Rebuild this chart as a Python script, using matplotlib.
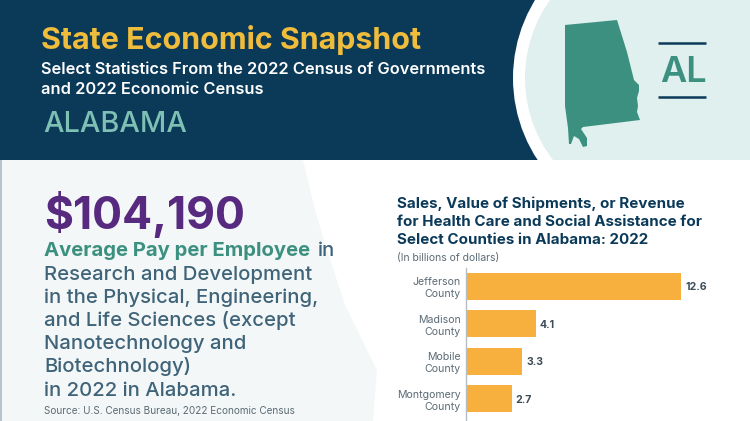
import matplotlib
matplotlib.use('Agg')
import matplotlib.pyplot as plt
from matplotlib.patches import Circle, Polygon, Rectangle

# chart values
counties = ['Jefferson\nCounty', 'Madison\nCounty', 'Mobile\nCounty', 'Montgomery\nCounty']
revenue = [12.6, 4.1, 3.3, 2.7]

body_lines = ['Research and Development', 'in the Physical, Engineering,', 'and Life Sciences (except',
              'Nanotechnology and', 'Biotechnology)', 'in 2022 in Alabama.']
body_y = [275, 298, 321, 344, 367, 391]
chart_title = ['Sales, Value of Shipments, or Revenue', 'for Health Care and Social Assistance for',
               'Select Counties in Alabama: 2022']
chart_title_y = [204, 222, 240]

state_outline = [(565, 25), (617, 20), (622, 36), (627, 52), (634, 80), (639, 85), (639, 91), (637, 98),
                 (638, 106), (637, 112), (640, 120), (583, 127), (581, 129), (587, 138), (587, 146), (583, 147),
                 (579, 139), (574, 136), (571, 144), (569, 144), (568, 128), (565, 106)]
shore_outline = [(303, 160), (315, 210), (327, 250), (345, 305), (367, 350), (377, 370), (373, 421), (0, 421), (0, 160)]

NAVY = '#0B3A59'
TEAL = '#3C9080'
SLATE = '#3F6378'
FONT = 'Inter'

plt.rcParams['font.family'] = [FONT, 'DejaVu Sans']

fig = plt.figure(figsize=(7.5, 4.21), dpi=100)
bg = fig.add_axes([0, 0, 1, 1])
bg.set_xlim(0, 750)
bg.set_ylim(421, 0)
bg.axis('off')

# header band and circle on the right
bg.add_patch(Rectangle((0, 0), 750, 160, color=NAVY, lw=0))
clip = Rectangle((0, 0), 750, 160, transform=bg.transData)
ring = Circle((662, 78), 149, color='white', lw=0)
disc = Circle((659, 78), 134, color='#DFF0EE', lw=0)
fill = Rectangle((660, 0), 90, 160, color='#DFF0EE', lw=0)
for p in (ring, disc, fill):
    bg.add_patch(p)
    p.set_clip_path(clip)

# pale shape behind the left column
bg.add_patch(Polygon(shore_outline, closed=True, color='#F3F7F7', lw=0))
bg.add_patch(Rectangle((0, 160), 1.5, 261, color='#B9C4CA', lw=0))

bg.add_patch(Polygon(state_outline, closed=True, color=TEAL, lw=0))
bg.plot([658, 706], [43, 43], color=NAVY, lw=1.8, solid_capstyle='butt')
bg.plot([658, 706], [97, 97], color=NAVY, lw=1.8, solid_capstyle='butt')
bg.text(660, 72, 'AL', color=TEAL, fontsize=26, fontweight='semibold', va='center', ha='left')

bg.text(41, 40, 'State Economic Snapshot', color='#EFBC3C', fontsize=21.9, fontweight='bold', va='center')
bg.text(41, 70, 'Select Statistics From the 2022 Census of Governments', color='white', fontsize=11.8,
        fontweight='semibold', va='center')
bg.text(41, 89, 'and 2022 Economic Census', color='white', fontsize=11.8, fontweight='semibold', va='center')
bg.text(43, 125, 'ALABAMA', color='#7FC0B5', fontsize=20.8, fontweight='medium', va='center')

bg.text(44, 215, '$104,190', color='#57297F', fontsize=32, fontweight='bold', va='center')
bg.text(44, 251, 'Average Pay per Employee', color=TEAL, fontsize=14.6, fontweight='bold', va='center')
bg.text(318, 251, 'in', color=SLATE, fontsize=14.6, fontweight='medium', va='center')
for line, y in zip(body_lines, body_y):
    bg.text(44, y, line, color=SLATE, fontsize=14.6, fontweight='medium', va='center')
bg.text(44, 411, 'Source: U.S. Census Bureau, 2022 Economic Census', color='#5B6B75', fontsize=7.2, va='center')

for line, y in zip(chart_title, chart_title_y):
    bg.text(397, y, line, color=NAVY, fontsize=10.9, fontweight='bold', va='center')
bg.text(397, 258, '(In billions of dollars)', color='#5B6B75', fontsize=7.5, va='center')

# bars, axes box runs from 268 px down to the bottom edge
ax = fig.add_axes([465.5 / 750, 0, 284.5 / 750, 153 / 421])
ax.patch.set_alpha(0)
y_pos = list(range(len(counties)))
bars = ax.barh(y_pos, revenue, height=0.72, color='#F7B03E')
ax.set_xlim(0, 284.5 / 17.1)
ax.set_ylim(3.59, -0.49)
ax.set_yticks(y_pos)
ax.set_yticklabels(counties, fontsize=7.6, color='#5B6B75', linespacing=1.25, ha='right', va='center_baseline')
ax.tick_params(axis='y', length=0, pad=3.5)
ax.set_xticks([])
for side in ('top', 'right', 'bottom'):
    ax.spines[side].set_visible(False)
ax.spines['left'].set_color('#B5BDC2')
ax.spines['left'].set_linewidth(1)
value_labels = ax.bar_label(bars, labels=[f'{v:.1f}' for v in revenue], padding=3, fontsize=7.6, fontweight='bold',
                            color='#3D4C56')
for t in value_labels:
    t.set_va('center_baseline')

fig.savefig('out.png', dpi=100)
